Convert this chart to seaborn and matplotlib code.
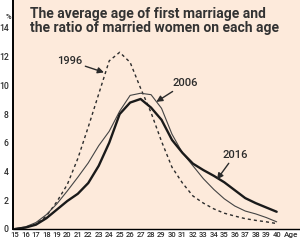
import matplotlib
matplotlib.use("Agg")
import matplotlib.pyplot as plt
import matplotlib.transforms as mtransforms
import seaborn as sns
import pandas as pd

sns.set_theme(style="white")
plt.rcParams['font.family'] = ['Roboto', 'DejaVu Sans']

# ratio of married women (%) by age
ages = list(range(15, 41))
r1996 = [0.0, 0.1, 0.35, 0.9, 1.9, 3.1, 4.9, 7.1, 9.4, 11.7, 12.3, 11.6, 9.8, 8.1,
         6.1, 4.3, 3.2, 2.3, 1.8, 1.4, 1.1, 0.9, 0.72, 0.6, 0.5, 0.38]
r2006 = [0.02, 0.15, 0.45, 1.0, 1.75, 2.65, 3.6, 4.6, 5.8, 6.8, 8.2, 9.3, 9.45, 9.35,
         8.4, 6.6, 5.3, 4.4, 3.5, 2.75, 2.1, 1.6, 1.25, 1.05, 0.8, 0.5]
r2016 = [0.0, 0.1, 0.3, 0.75, 1.35, 1.95, 2.45, 3.2, 4.4, 6.0, 8.0, 8.8, 9.05, 8.45,
         7.6, 6.2, 5.3, 4.55, 4.1, 3.7, 3.25, 2.7, 2.15, 1.8, 1.5, 1.2]
y_ticks = [0, 2, 4, 6, 8, 10, 12, 14]
title = "The average age of first marriage and\nthe ratio of married women on each age"

df = pd.DataFrame({'age': ages, '1996': r1996, '2006': r2006, '2016': r2016})

bg = '#fdeadb'
ink = '#2b2b2b'

fig = plt.figure(figsize=(3.0, 2.42), dpi=100)
fig.patch.set_facecolor('white')
ax = fig.add_axes([13 / 300, 13 / 242, 287 / 300, 229 / 242])
ax.set_facecolor(bg)

sns.lineplot(data=df, x='age', y='1996', ax=ax, color=ink, lw=1.0,
             linestyle=(0, (2.2, 2.2)))
sns.lineplot(data=df, x='age', y='2006', ax=ax, color='#444444', lw=0.8)
sns.lineplot(data=df, x='age', y='2016', ax=ax, color='#1a1a1a', lw=1.7)

ax.set_xlim(14.81, 42.23)
ax.set_ylim(0, 15.94)
ax.set_xlabel('')
ax.set_ylabel('')
ax.set_xticks(ages)
ax.set_xticklabels([str(a) for a in ages], fontsize=5.5, color=ink,
                   fontweight='medium')
ax.set_yticks(y_ticks)
ax.set_yticklabels([str(v) for v in y_ticks], fontsize=6.2, color=ink,
                   fontweight='medium')
ax.tick_params(axis='both', which='both', length=2, width=0.6, pad=1,
               direction='out', colors=ink)
ax.tick_params(axis='x', length=1.5)
for side in ['top', 'right']:
    ax.spines[side].set_visible(False)
ax.spines['left'].set_color('black')
ax.spines['left'].set_linewidth(1.4)
ax.spines['bottom'].set_color('black')
ax.spines['bottom'].set_linewidth(1.0)

trans = mtransforms.blended_transform_factory(ax.transData, ax.transAxes)
ax.text(41.35, -0.012, 'Age', transform=trans, fontsize=5.8, color=ink,
        ha='center', va='top', fontweight='medium')
fig.text(8 / 300, 1 - 17 / 242, '%', fontsize=5.5, color=ink,
         ha='center', va='center', fontweight='medium')

fig.text(30 / 300, 1 - 7 / 242, title, fontsize=10, fontweight='bold',
         color='#333333', ha='left', va='top', linespacing=1.0)

# labels with arrows
arrow = dict(arrowstyle='-|>', color=ink, lw=1.0, mutation_scale=9,
             shrinkA=0, shrinkB=0)
ax.annotate('1996', xy=(23.5, 10.9), xytext=(20.2, 11.7), fontsize=8,
            color=ink, ha='center', va='center', fontweight='medium',
            arrowprops=arrow)
ax.annotate('2006', xy=(28.5, 8.85), xytext=(31.3, 10.15), fontsize=8,
            color=ink, ha='center', va='center', fontweight='medium',
            arrowprops=arrow)
ax.annotate('2016', xy=(34.3, 3.45), xytext=(36.0, 5.15), fontsize=8,
            color=ink, ha='center', va='center', fontweight='medium',
            arrowprops=arrow)

fig.savefig('out.png', dpi=100, facecolor=fig.get_facecolor())
